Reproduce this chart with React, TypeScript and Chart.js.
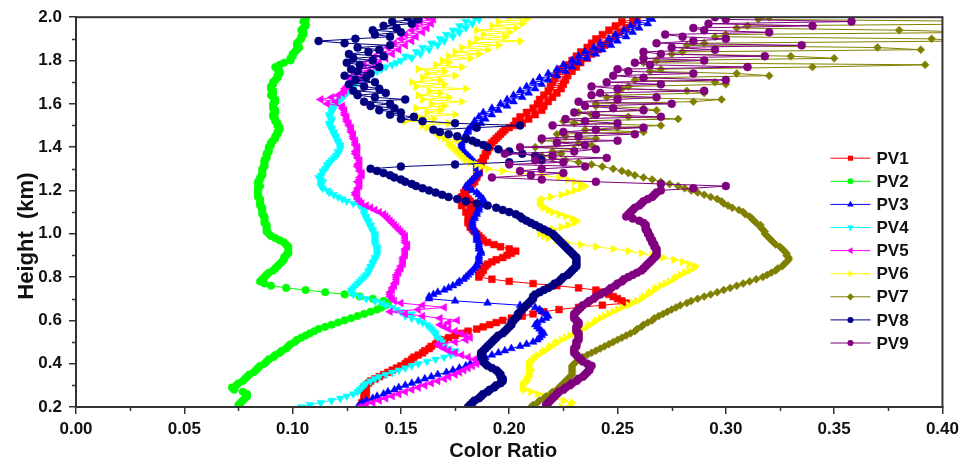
import React, { useEffect, useRef } from "react";
import { Chart, registerables } from "chart.js";

Chart.register(...registerables);

// ---------- data ----------
const heights = [
  0.20, 0.21, 0.22, 0.23, 0.24, 0.25, 0.26, 0.27, 0.28, 0.29,
  0.30, 0.31, 0.32, 0.33, 0.34, 0.35, 0.36, 0.37, 0.38, 0.39,
  0.40, 0.41, 0.42, 0.43, 0.44, 0.45, 0.46, 0.47, 0.48, 0.49,
  0.50, 0.51, 0.52, 0.53, 0.54, 0.55, 0.56, 0.57, 0.58, 0.59,
  0.60, 0.61, 0.62, 0.63, 0.64, 0.65, 0.66, 0.67, 0.68, 0.69,
  0.70, 0.71, 0.72, 0.73, 0.74, 0.75, 0.76, 0.77, 0.78, 0.79,
  0.80, 0.81, 0.82, 0.83, 0.84, 0.85, 0.86, 0.87, 0.88, 0.89,
  0.90, 0.91, 0.92, 0.93, 0.94, 0.95, 0.96, 0.97, 0.98, 0.99,
  1.00, 1.01, 1.02, 1.03, 1.04, 1.05, 1.06, 1.07, 1.08, 1.09,
  1.10, 1.11, 1.12, 1.13, 1.14, 1.15, 1.16, 1.17, 1.18, 1.19,
  1.20, 1.21, 1.22, 1.23, 1.24, 1.25, 1.26, 1.27, 1.28, 1.29,
  1.30, 1.31, 1.32, 1.33, 1.34, 1.35, 1.36, 1.37, 1.38, 1.39,
  1.40, 1.41, 1.42, 1.43, 1.44, 1.45, 1.46, 1.47, 1.48, 1.49,
  1.50, 1.51, 1.52, 1.53, 1.54, 1.55, 1.56, 1.57, 1.58, 1.59,
  1.60, 1.61, 1.62, 1.63, 1.64, 1.65, 1.66, 1.67, 1.68, 1.69,
  1.70, 1.71, 1.72, 1.73, 1.74, 1.75, 1.76, 1.77, 1.78, 1.79,
  1.80, 1.81, 1.82, 1.83, 1.84, 1.85, 1.86, 1.87, 1.88, 1.89,
  1.90, 1.91, 1.92, 1.93, 1.94, 1.95, 1.96, 1.97, 1.98, 1.99,
  2.00,
];

const pv1 = [
  0.133, 0.132, 0.132, 0.133, 0.133, 0.134, 0.133, 0.134, 0.134, 0.133,
  0.134, 0.135, 0.136, 0.138, 0.140, 0.142, 0.144, 0.146, 0.148, 0.150,
  0.152, 0.153, 0.155, 0.156, 0.158, 0.160, 0.161, 0.163, 0.164, 0.166,
  0.167, 0.170, 0.172, 0.175, 0.178, 0.181, 0.185, 0.188, 0.191, 0.194,
  0.197, 0.201, 0.206, 0.211, 0.216, 0.223, 0.232, 0.243, 0.254, 0.252,
  0.250, 0.248, 0.246, 0.243, 0.240, 0.232, 0.222, 0.211, 0.200, 0.192,
  0.186, 0.186, 0.187, 0.188, 0.188, 0.189, 0.190, 0.192, 0.194, 0.197,
  0.199, 0.201, 0.203, 0.200, 0.196, 0.193, 0.190, 0.188, 0.187, 0.186,
  0.185, 0.184, 0.183, 0.182, 0.182, 0.181, 0.181, 0.182, 0.182, 0.181,
  0.180, 0.183, 0.182, 0.178, 0.179, 0.182, 0.181, 0.178, 0.180, 0.179,
  0.180, 0.181, 0.182, 0.183, 0.184, 0.184, 0.185, 0.185, 0.186, 0.186,
  0.186, 0.186, 0.187, 0.187, 0.188, 0.188, 0.189, 0.189, 0.190, 0.190,
  0.191, 0.191, 0.192, 0.193, 0.194, 0.195, 0.196, 0.197, 0.198, 0.200,
  0.202, 0.206, 0.203, 0.209, 0.205, 0.212, 0.208, 0.215, 0.211, 0.216,
  0.213, 0.218, 0.214, 0.220, 0.216, 0.222, 0.218, 0.224, 0.219, 0.225,
  0.220, 0.226, 0.221, 0.227, 0.222, 0.229, 0.224, 0.231, 0.226, 0.233,
  0.229, 0.236, 0.231, 0.238, 0.233, 0.241, 0.236, 0.244, 0.238, 0.246,
  0.240, 0.249, 0.243, 0.251, 0.246, 0.254, 0.249, 0.257, 0.252, 0.259,
  0.257,
];

const pv2 = [
  0.075, 0.075, 0.076, 0.077, 0.078, 0.079, 0.079, 0.077, 0.073, 0.072,
  0.074, 0.075, 0.077, 0.078, 0.079, 0.080, 0.082, 0.083, 0.084, 0.085,
  0.087, 0.088, 0.089, 0.091, 0.092, 0.094, 0.095, 0.097, 0.098, 0.099,
  0.101, 0.102, 0.104, 0.106, 0.108, 0.110, 0.112, 0.115, 0.118, 0.121,
  0.124, 0.127, 0.130, 0.133, 0.136, 0.139, 0.141, 0.143, 0.144, 0.142,
  0.137, 0.131, 0.124, 0.115, 0.106, 0.097, 0.090, 0.087, 0.085, 0.086,
  0.087, 0.088, 0.089, 0.091, 0.092, 0.093, 0.094, 0.095, 0.096, 0.096,
  0.097, 0.098, 0.098, 0.098, 0.098, 0.097, 0.096, 0.094, 0.092, 0.090,
  0.089, 0.088, 0.088, 0.088, 0.088, 0.087, 0.087, 0.087, 0.087, 0.086,
  0.086, 0.086, 0.086, 0.085, 0.085, 0.085, 0.085, 0.084, 0.084, 0.084,
  0.084, 0.084, 0.085, 0.084, 0.084, 0.085, 0.085, 0.086, 0.086, 0.086,
  0.086, 0.087, 0.087, 0.087, 0.087, 0.088, 0.088, 0.088, 0.089, 0.089,
  0.089, 0.090, 0.090, 0.091, 0.092, 0.092, 0.093, 0.093, 0.094, 0.094,
  0.093, 0.093, 0.092, 0.092, 0.091, 0.091, 0.092, 0.092, 0.091, 0.091,
  0.091, 0.092, 0.092, 0.091, 0.090, 0.091, 0.091, 0.090, 0.090, 0.091,
  0.091, 0.092, 0.093, 0.093, 0.094, 0.094, 0.093, 0.092, 0.094, 0.096,
  0.099, 0.099, 0.100, 0.100, 0.101, 0.102, 0.103, 0.102, 0.102, 0.103,
  0.104, 0.104, 0.105, 0.105, 0.104, 0.105, 0.106, 0.106, 0.105, 0.106,
  0.106,
];

const pv3 = [
  0.130, 0.131, 0.132, 0.134, 0.137, 0.139, 0.142, 0.144, 0.147, 0.149,
  0.152, 0.155, 0.158, 0.161, 0.164, 0.167, 0.171, 0.174, 0.177, 0.180,
  0.182, 0.185, 0.187, 0.189, 0.192, 0.195, 0.198, 0.201, 0.205, 0.208,
  0.211, 0.213, 0.214, 0.215, 0.216, 0.215, 0.214, 0.213, 0.212, 0.213,
  0.215, 0.217, 0.218, 0.217, 0.215, 0.214, 0.212, 0.205, 0.190, 0.175,
  0.163, 0.163, 0.165, 0.167, 0.170, 0.172, 0.174, 0.176, 0.177, 0.179,
  0.180, 0.181, 0.182, 0.183, 0.184, 0.185, 0.185, 0.186, 0.186, 0.186,
  0.186, 0.187, 0.187, 0.186, 0.186, 0.186, 0.186, 0.185, 0.185, 0.185,
  0.185, 0.184, 0.184, 0.183, 0.183, 0.183, 0.183, 0.184, 0.184, 0.185,
  0.185, 0.186, 0.186, 0.187, 0.187, 0.188, 0.188, 0.187, 0.186, 0.185,
  0.183, 0.181, 0.180, 0.181, 0.182, 0.183, 0.184, 0.185, 0.186, 0.186,
  0.185, 0.185, 0.185, 0.184, 0.183, 0.182, 0.181, 0.180, 0.179, 0.178,
  0.178, 0.178, 0.178, 0.179, 0.179, 0.180, 0.180, 0.181, 0.181, 0.182,
  0.183, 0.187, 0.184, 0.189, 0.186, 0.192, 0.188, 0.195, 0.192, 0.199,
  0.196, 0.202, 0.199, 0.206, 0.202, 0.209, 0.205, 0.212, 0.208, 0.215,
  0.211, 0.218, 0.214, 0.222, 0.218, 0.226, 0.222, 0.229, 0.225, 0.232,
  0.229, 0.236, 0.232, 0.240, 0.235, 0.243, 0.239, 0.247, 0.242, 0.250,
  0.246, 0.254, 0.249, 0.257, 0.253, 0.260, 0.256, 0.264, 0.259, 0.266,
  0.265,
];

const pv4 = [
  0.104, 0.108, 0.113, 0.118, 0.122, 0.125, 0.128, 0.130, 0.131, 0.132,
  0.133, 0.134, 0.136, 0.138, 0.140, 0.143, 0.146, 0.149, 0.152, 0.155,
  0.158, 0.162, 0.166, 0.170, 0.173, 0.175, 0.175, 0.172, 0.170, 0.169,
  0.169, 0.168, 0.167, 0.166, 0.166, 0.165, 0.164, 0.163, 0.162, 0.160,
  0.158, 0.155, 0.152, 0.155, 0.150, 0.148, 0.146, 0.143, 0.141, 0.138,
  0.134, 0.131, 0.128, 0.127, 0.127, 0.128, 0.129, 0.130, 0.131, 0.132,
  0.133, 0.134, 0.135, 0.135, 0.136, 0.136, 0.137, 0.137, 0.138, 0.138,
  0.139, 0.139, 0.139, 0.139, 0.139, 0.138, 0.138, 0.138, 0.138, 0.138,
  0.138, 0.137, 0.137, 0.136, 0.136, 0.135, 0.135, 0.134, 0.134, 0.133,
  0.133, 0.133, 0.133, 0.131, 0.128, 0.125, 0.123, 0.121, 0.119, 0.117,
  0.116, 0.114, 0.113, 0.113, 0.114, 0.113, 0.112, 0.113, 0.114, 0.114,
  0.115, 0.116, 0.116, 0.117, 0.118, 0.119, 0.120, 0.121, 0.121, 0.122,
  0.122, 0.122, 0.121, 0.121, 0.120, 0.120, 0.119, 0.119, 0.118, 0.118,
  0.117, 0.117, 0.118, 0.118, 0.117, 0.117, 0.118, 0.118, 0.119, 0.119,
  0.120, 0.121, 0.122, 0.123, 0.124, 0.125, 0.126, 0.127, 0.128, 0.129,
  0.131, 0.132, 0.134, 0.135, 0.137, 0.139, 0.141, 0.143, 0.146, 0.148,
  0.150, 0.155, 0.152, 0.159, 0.157, 0.163, 0.160, 0.167, 0.164, 0.170,
  0.168, 0.174, 0.171, 0.177, 0.174, 0.180, 0.177, 0.183, 0.180, 0.186,
  0.184,
];

const pv5 = [
  0.131, 0.134, 0.137, 0.140, 0.143, 0.146, 0.149, 0.152, 0.155, 0.158,
  0.161, 0.164, 0.167, 0.170, 0.172, 0.175, 0.177, 0.179, 0.181, 0.183,
  0.185, 0.186, 0.184, 0.181, 0.178, 0.175, 0.172, 0.170, 0.168, 0.167,
  0.175, 0.180, 0.182, 0.180, 0.178, 0.175, 0.172, 0.170, 0.168, 0.172,
  0.176, 0.168, 0.160, 0.152, 0.145, 0.158, 0.170, 0.160, 0.150, 0.147,
  0.146, 0.145, 0.145, 0.145, 0.146, 0.146, 0.147, 0.147, 0.148, 0.148,
  0.148, 0.148, 0.149, 0.149, 0.150, 0.150, 0.151, 0.151, 0.151, 0.151,
  0.152, 0.152, 0.152, 0.152, 0.153, 0.153, 0.152, 0.152, 0.152, 0.152,
  0.151, 0.150, 0.149, 0.148, 0.147, 0.146, 0.145, 0.144, 0.143, 0.142,
  0.140, 0.138, 0.136, 0.134, 0.132, 0.131, 0.130, 0.130, 0.129, 0.129,
  0.130, 0.130, 0.131, 0.131, 0.130, 0.131, 0.131, 0.132, 0.132, 0.131,
  0.131, 0.130, 0.130, 0.131, 0.131, 0.130, 0.130, 0.129, 0.129, 0.130,
  0.130, 0.129, 0.129, 0.129, 0.128, 0.128, 0.128, 0.127, 0.127, 0.127,
  0.126, 0.126, 0.125, 0.125, 0.125, 0.124, 0.124, 0.124, 0.123, 0.123,
  0.116, 0.120, 0.113, 0.118, 0.121, 0.123, 0.124, 0.124, 0.125, 0.126,
  0.127, 0.131, 0.126, 0.133, 0.129, 0.135, 0.131, 0.138, 0.133, 0.140,
  0.136, 0.143, 0.138, 0.146, 0.141, 0.149, 0.144, 0.152, 0.147, 0.155,
  0.150, 0.157, 0.152, 0.160, 0.155, 0.162, 0.157, 0.164, 0.159, 0.165,
  0.162,
];

const pv6 = [
  0.224, 0.228, 0.229, 0.225, 0.220, 0.216, 0.213, 0.210, 0.207, 0.206,
  0.206, 0.207, 0.208, 0.208, 0.209, 0.209, 0.209, 0.210, 0.209, 0.209,
  0.209, 0.210, 0.211, 0.212, 0.213, 0.215, 0.216, 0.218, 0.219, 0.221,
  0.222, 0.224, 0.226, 0.228, 0.230, 0.232, 0.234, 0.236, 0.237, 0.239,
  0.240, 0.242, 0.244, 0.246, 0.248, 0.250, 0.252, 0.255, 0.257, 0.259,
  0.261, 0.262, 0.264, 0.265, 0.267, 0.268, 0.270, 0.272, 0.274, 0.276,
  0.277, 0.279, 0.281, 0.283, 0.285, 0.286, 0.283, 0.280, 0.276, 0.271,
  0.266, 0.261, 0.255, 0.248, 0.240, 0.233, 0.226, 0.222, 0.218, 0.216,
  0.214, 0.217, 0.220, 0.224, 0.227, 0.230, 0.231, 0.229, 0.226, 0.223,
  0.220, 0.218, 0.216, 0.215, 0.214, 0.214, 0.215, 0.219, 0.224, 0.227,
  0.230, 0.233, 0.235, 0.233, 0.230, 0.227, 0.223, 0.215, 0.205, 0.197,
  0.190, 0.187, 0.185, 0.182, 0.180, 0.179, 0.178, 0.177, 0.176, 0.175,
  0.174, 0.173, 0.172, 0.176, 0.170, 0.168, 0.167, 0.166, 0.165, 0.162,
  0.160, 0.172, 0.152, 0.165, 0.158, 0.175, 0.162, 0.168, 0.157, 0.170,
  0.164, 0.178, 0.160, 0.172, 0.158, 0.168, 0.163, 0.180, 0.157, 0.170,
  0.155, 0.168, 0.160, 0.175, 0.162, 0.170, 0.158, 0.178, 0.166, 0.172,
  0.169, 0.182, 0.172, 0.186, 0.175, 0.190, 0.178, 0.195, 0.182, 0.205,
  0.185, 0.198, 0.188, 0.200, 0.185, 0.203, 0.192, 0.206, 0.195, 0.208,
  0.200,
];

const pv7 = [
  0.210, 0.211, 0.213, 0.214, 0.216, 0.217, 0.219, 0.220, 0.222, 0.223,
  0.224, 0.225, 0.226, 0.227, 0.228, 0.229, 0.229, 0.229, 0.229, 0.229,
  0.230, 0.231, 0.232, 0.234, 0.236, 0.238, 0.240, 0.242, 0.244, 0.246,
  0.248, 0.250, 0.252, 0.254, 0.256, 0.258, 0.259, 0.261, 0.262, 0.264,
  0.266, 0.267, 0.269, 0.271, 0.273, 0.275, 0.277, 0.279, 0.282, 0.284,
  0.287, 0.290, 0.293, 0.296, 0.299, 0.302, 0.305, 0.308, 0.311, 0.314,
  0.317, 0.319, 0.321, 0.323, 0.324, 0.326, 0.327, 0.328, 0.329, 0.329,
  0.328, 0.328, 0.327, 0.326, 0.325, 0.323, 0.322, 0.321, 0.320, 0.319,
  0.318, 0.318, 0.317, 0.316, 0.316, 0.314, 0.313, 0.312, 0.311, 0.309,
  0.308, 0.306, 0.303, 0.301, 0.299, 0.298, 0.296, 0.293, 0.290, 0.287,
  0.284, 0.281, 0.278, 0.274, 0.270, 0.266, 0.262, 0.258, 0.255, 0.252,
  0.248, 0.243, 0.238, 0.232, 0.226, 0.220, 0.215, 0.224, 0.220, 0.230,
  0.212, 0.238, 0.232, 0.215, 0.240, 0.226, 0.222, 0.262, 0.235, 0.250,
  0.270, 0.230, 0.225, 0.278, 0.255, 0.238, 0.232, 0.268, 0.262, 0.240,
  0.240, 0.285, 0.298, 0.245, 0.250, 0.290, 0.282, 0.252, 0.255, 0.300,
  0.295, 0.258, 0.262, 0.320, 0.305, 0.265, 0.270, 0.340, 0.392, 0.262,
  0.268, 0.350, 0.330, 0.275, 0.280, 0.390, 0.370, 0.282, 0.290, 0.410,
  0.395, 0.295, 0.300, 0.420, 0.380, 0.305, 0.310, 0.440, 0.430, 0.315,
  0.320,
];

const pv8 = [
  0.181, 0.182, 0.183, 0.184, 0.186, 0.187, 0.188, 0.190, 0.191, 0.193,
  0.194, 0.196, 0.197, 0.197, 0.196, 0.196, 0.195, 0.194, 0.192, 0.190,
  0.189, 0.188, 0.188, 0.187, 0.187, 0.187, 0.188, 0.189, 0.190, 0.191,
  0.192, 0.193, 0.194, 0.195, 0.197, 0.198, 0.199, 0.200, 0.201, 0.201,
  0.202, 0.203, 0.204, 0.204, 0.205, 0.206, 0.207, 0.208, 0.209, 0.210,
  0.211, 0.211, 0.212, 0.214, 0.216, 0.218, 0.220, 0.221, 0.223, 0.224,
  0.225, 0.227, 0.228, 0.229, 0.230, 0.231, 0.231, 0.231, 0.231, 0.231,
  0.230, 0.229, 0.228, 0.227, 0.226, 0.225, 0.224, 0.223, 0.222, 0.221,
  0.220, 0.218, 0.216, 0.214, 0.212, 0.210, 0.208, 0.206, 0.205, 0.203,
  0.200, 0.197, 0.194, 0.190, 0.185, 0.180, 0.176, 0.172, 0.169, 0.166,
  0.163, 0.160, 0.157, 0.155, 0.152, 0.150, 0.147, 0.145, 0.142, 0.139,
  0.136, 0.150, 0.175, 0.200, 0.215, 0.214, 0.212, 0.206, 0.200, 0.195,
  0.190, 0.188, 0.185, 0.183, 0.180, 0.176, 0.172, 0.168, 0.165, 0.185,
  0.205, 0.175, 0.160, 0.150, 0.156, 0.145, 0.150, 0.140, 0.147, 0.136,
  0.145, 0.133, 0.152, 0.138, 0.130, 0.143, 0.128, 0.140, 0.133, 0.126,
  0.138, 0.129, 0.134, 0.124, 0.136, 0.130, 0.127, 0.140, 0.131, 0.125,
  0.137, 0.128, 0.142, 0.126, 0.135, 0.140, 0.130, 0.145, 0.124, 0.112,
  0.129, 0.145, 0.138, 0.150, 0.137, 0.148, 0.142, 0.155, 0.146, 0.158,
  0.153,
];

const pv9 = [
  0.217, 0.217, 0.218, 0.219, 0.220, 0.221, 0.222, 0.223, 0.225, 0.226,
  0.228, 0.229, 0.231, 0.232, 0.234, 0.235, 0.236, 0.237, 0.237, 0.238,
  0.236, 0.234, 0.233, 0.232, 0.231, 0.230, 0.230, 0.230, 0.231, 0.231,
  0.231, 0.232, 0.232, 0.232, 0.232, 0.231, 0.231, 0.231, 0.232, 0.232,
  0.231, 0.230, 0.230, 0.230, 0.231, 0.232, 0.233, 0.234, 0.236, 0.237,
  0.239, 0.240, 0.242, 0.244, 0.246, 0.247, 0.249, 0.250, 0.252, 0.253,
  0.255, 0.257, 0.259, 0.261, 0.262, 0.263, 0.264, 0.265, 0.266, 0.267,
  0.268, 0.268, 0.268, 0.268, 0.267, 0.267, 0.266, 0.266, 0.265, 0.265,
  0.264, 0.264, 0.263, 0.263, 0.263, 0.262, 0.260, 0.257, 0.254, 0.255,
  0.256, 0.257, 0.258, 0.260, 0.261, 0.262, 0.264, 0.266, 0.267, 0.268,
  0.270, 0.285, 0.300, 0.270, 0.240, 0.215, 0.192, 0.210, 0.225, 0.205,
  0.215, 0.235, 0.200, 0.225, 0.212, 0.245, 0.220, 0.198, 0.230, 0.240,
  0.205, 0.235, 0.222, 0.250, 0.215, 0.232, 0.258, 0.225, 0.240, 0.262,
  0.220, 0.250, 0.235, 0.226, 0.270, 0.240, 0.230, 0.262, 0.248, 0.235,
  0.275, 0.232, 0.250, 0.268, 0.238, 0.242, 0.290, 0.250, 0.238, 0.270,
  0.245, 0.300, 0.262, 0.248, 0.285, 0.255, 0.250, 0.310, 0.265, 0.258,
  0.290, 0.262, 0.318, 0.270, 0.262, 0.295, 0.275, 0.335, 0.268, 0.285,
  0.300, 0.280, 0.272, 0.320, 0.290, 0.285, 0.340, 0.292, 0.358, 0.300,
  0.295,
];

const seriesNames = ["PV1", "PV2", "PV3", "PV4", "PV5", "PV6", "PV7", "PV8", "PV9"];
const seriesValues = [pv1, pv2, pv3, pv4, pv5, pv6, pv7, pv8, pv9];

const xMin = 0;
const xMax = 0.4;
const xMajorStep = 0.05;
const xMinorTicks = [0.025, 0.075, 0.125, 0.175, 0.225, 0.275, 0.325, 0.375];
const yMin = 0.2;
const yMax = 2.0;
const yMajorStep = 0.2;
const yMinorTicks = [0.3, 0.5, 0.7, 0.9, 1.1, 1.3, 1.5, 1.7, 1.9];

const xTitle = "Color Ratio";
const yTitle = "Height  (km)";

// ---------- styles ----------
const seriesStyles = [
  { color: "#ff0000", point: "rect", rot: 0, r: 4.8 },
  { color: "#00ff00", point: "circle", rot: 0, r: 3.8 },
  { color: "#0000ff", point: "triangle", rot: 0, r: 4.5 },
  { color: "#00ffff", point: "triangle", rot: 180, r: 4.5 },
  { color: "#ff00ff", point: "triangle", rot: -90, r: 4.5 },
  { color: "#ffff00", point: "triangle", rot: 90, r: 4.5 },
  { color: "#808000", point: "rectRot", rot: 0, r: 4 },
  { color: "#000080", point: "circle", rot: 0, r: 4 },
  { color: "#800080", point: "circle", rot: 0, r: 4 },
];

const FONT = "'Liberation Sans', Arial, Helvetica, sans-serif";
const AXIS_COLOR = "#333333";
const TEXT_COLOR = "#111111";

function drawMarker(ctx: CanvasRenderingContext2D, style: string, rot: number, x: number, y: number, r: number) {
  ctx.save();
  ctx.translate(x, y);
  ctx.rotate((rot * Math.PI) / 180);
  ctx.beginPath();
  if (style === "circle") {
    ctx.arc(0, 0, r, 0, Math.PI * 2);
  } else if (style === "rect") {
    ctx.rect(-r * 0.85, -r * 0.85, r * 1.7, r * 1.7);
  } else if (style === "triangle") {
    ctx.moveTo(0, -r * 1.2);
    ctx.lineTo(r * 1.1, r * 0.7);
    ctx.lineTo(-r * 1.1, r * 0.7);
    ctx.closePath();
  } else if (style === "rectRot") {
    ctx.moveTo(0, -r * 1.2);
    ctx.lineTo(r * 1.2, 0);
    ctx.lineTo(0, r * 1.2);
    ctx.lineTo(-r * 1.2, 0);
    ctx.closePath();
  }
  ctx.fill();
  ctx.restore();
}

const decorPlugin = {
  id: "decor",
  afterDatasetsDraw(chart: any) {
    const ctx: CanvasRenderingContext2D = chart.ctx;
    const { left, right, top, bottom } = chart.chartArea;
    const xs = chart.scales.x;
    const ys = chart.scales.y;
    ctx.save();
    ctx.strokeStyle = AXIS_COLOR;
    ctx.lineWidth = 2;
    ctx.strokeRect(left, top, right - left, bottom - top);
    ctx.lineWidth = 1.5;
    ctx.beginPath();
    xMinorTicks.forEach((v) => {
      const px = Math.round(xs.getPixelForValue(v)) + 0.5;
      ctx.moveTo(px, bottom);
      ctx.lineTo(px, bottom + 4);
    });
    yMinorTicks.forEach((v) => {
      const py = Math.round(ys.getPixelForValue(v)) + 0.5;
      ctx.moveTo(left, py);
      ctx.lineTo(left - 4, py);
    });
    ctx.stroke();
    ctx.restore();
  },
  afterDraw(chart: any) {
    const ctx: CanvasRenderingContext2D = chart.ctx;
    const { left, right, top, bottom } = chart.chartArea;
    ctx.save();
    const lx = right - 112;
    const ly = top + 141;
    const row = 23.1;
    ctx.font = `bold 17px ${FONT}`;
    ctx.textAlign = "left";
    ctx.textBaseline = "middle";
    seriesNames.forEach((name, i) => {
      const st = seriesStyles[i];
      const y = ly + i * row;
      ctx.strokeStyle = st.color;
      ctx.lineWidth = 1;
      ctx.beginPath();
      ctx.moveTo(lx, y);
      ctx.lineTo(lx + 40, y);
      ctx.stroke();
      ctx.fillStyle = st.color;
      drawMarker(ctx, st.point, st.rot, lx + 20, y, 3);
      ctx.fillStyle = TEXT_COLOR;
      ctx.fillText(name, lx + 46, y + 1);
    });
    ctx.fillStyle = TEXT_COLOR;
    ctx.font = `bold 20px ${FONT}`;
    ctx.textAlign = "center";
    ctx.textBaseline = "alphabetic";
    ctx.fillText(xTitle, (left + right) / 2 - 6, bottom + 50);
    ctx.save();
    ctx.translate(left - 43, (top + bottom) / 2 + 24);
    ctx.rotate(-Math.PI / 2);
    ctx.font = `bold 22px ${FONT}`;
    ctx.fillText(yTitle, 0, 0);
    ctx.restore();
    ctx.restore();
  },
};

export default function App() {
  const canvasRef = useRef<HTMLCanvasElement | null>(null);

  useEffect(() => {
    const canvas = canvasRef.current;
    if (!canvas) return;
    const datasets = seriesNames.map((name, i) => {
      const st = seriesStyles[i];
      return {
        label: name,
        data: heights.map((h, j) => ({ x: seriesValues[i][j], y: h })),
        showLine: true,
        order: seriesNames.length - 1 - i,
        borderColor: st.color,
        borderWidth: 1,
        backgroundColor: st.color,
        pointBackgroundColor: st.color,
        pointBorderColor: st.color,
        pointBorderWidth: 0.5,
        pointRadius: st.r,
        pointStyle: st.point,
        pointRotation: st.rot,
        tension: 0,
      };
    });

    const chart = new Chart(canvas, {
      type: "scatter",
      data: { datasets } as any,
      plugins: [decorPlugin],
      options: {
        animation: false,
        responsive: false,
        devicePixelRatio: 1,
        events: [],
        layout: { padding: { top: 17, right: 20, left: 0, bottom: 0 } },
        plugins: {
          legend: { display: false },
          tooltip: { enabled: false },
          title: { display: false },
        },
        scales: {
          x: {
            type: "linear",
            min: xMin,
            max: xMax,
            afterFit: (s: any) => {
              s.height = 62;
            },
            border: { display: true, color: AXIS_COLOR, width: 2 },
            grid: {
              display: true,
              drawOnChartArea: false,
              drawTicks: true,
              tickLength: 7,
              color: AXIS_COLOR,
              lineWidth: 1.5,
            },
            ticks: {
              stepSize: xMajorStep,
              padding: 5,
              color: TEXT_COLOR,
              font: { family: FONT, size: 17, weight: "bold" },
              maxRotation: 0,
              autoSkip: false,
              callback: (v: any) => Number(v).toFixed(2),
            },
          },
          y: {
            type: "linear",
            min: yMin,
            max: yMax,
            afterFit: (s: any) => {
              s.width = 76;
            },
            border: { display: true, color: AXIS_COLOR, width: 2 },
            grid: {
              display: true,
              drawOnChartArea: false,
              drawTicks: true,
              tickLength: 7,
              color: AXIS_COLOR,
              lineWidth: 1.5,
            },
            ticks: {
              stepSize: yMajorStep,
              padding: 7,
              color: TEXT_COLOR,
              font: { family: FONT, size: 17, weight: "bold" },
              autoSkip: false,
              callback: (v: any) => Number(v).toFixed(1),
            },
          },
        },
      } as any,
    });
    return () => chart.destroy();
  }, []);

  return (
    <div
      style={{
        position: "absolute",
        left: 0,
        top: 0,
        width: 964,
        height: 469,
        background: "#ffffff",
      }}
    >
      <canvas ref={canvasRef} width={964} height={469} style={{ display: "block", width: 964, height: 469 }} />
    </div>
  );
}
